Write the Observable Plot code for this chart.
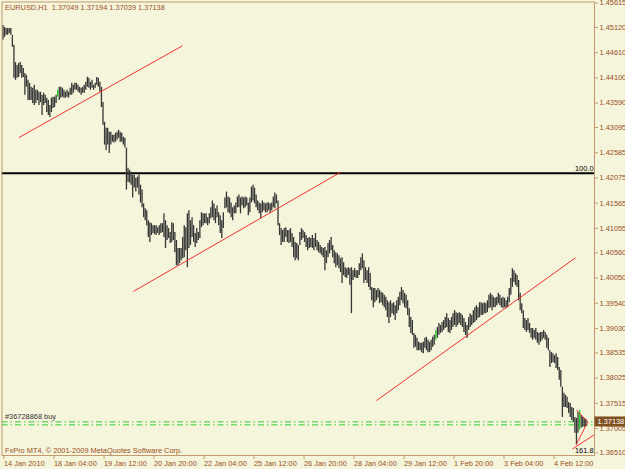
<!DOCTYPE html>
<html><head><meta charset="utf-8">
<script src="https://cdn.jsdelivr.net/npm/d3@7"></script>
<script src="https://cdn.jsdelivr.net/npm/@observablehq/plot@0.6"></script>
<style>
html,body{margin:0;padding:0;background:#f5f5dc;}
#chart svg{display:block;}
</style></head><body><div id="chart"></div>
<script>
const symbol = "EURUSD,H1";
const lastOHLC = [1.37049, 1.37194, 1.37039, 1.37138];

const highs = [
1.4516,1.4512,1.4510,1.4510,1.4510,1.4510,1.4496,1.4476,1.4441,1.4435,
1.4439,1.4441,1.4435,1.4429,1.4419,1.4415,1.4405,1.4399,1.4391,1.4389,
1.4395,1.4385,1.4385,1.4381,1.4381,1.4375,1.4379,1.4375,1.4369,1.4364,
1.4354,1.4369,1.4371,1.4371,1.4375,1.4385,1.4391,1.4391,1.4389,1.4385,
1.4381,1.4385,1.4381,1.4389,1.4399,1.4395,1.4399,1.4399,1.4395,1.4391,
1.4389,1.4391,1.4395,1.4401,1.4411,1.4409,1.4401,1.4405,1.4395,1.4399,
1.4411,1.4409,1.4401,1.4391,1.4360,1.4320,1.4308,1.4308,1.4300,1.4300,
1.4294,1.4294,1.4298,1.4300,1.4304,1.4300,1.4298,1.4290,1.4288,1.4268,
1.4227,1.4223,1.4219,1.4213,1.4213,1.4207,1.4209,1.4213,1.4193,1.4183,
1.4155,1.4145,1.4141,1.4121,1.4117,1.4115,1.4111,1.4111,1.4111,1.4107,
1.4111,1.4115,1.4115,1.4135,1.4121,1.4111,1.4105,1.4097,1.4117,1.4115,
1.4097,1.4081,1.4065,1.4065,1.4065,1.4087,1.4111,1.4107,1.4135,1.4141,
1.4121,1.4127,1.4111,1.4095,1.4105,1.4097,1.4121,1.4137,1.4135,1.4135,
1.4135,1.4127,1.4135,1.4147,1.4161,1.4155,1.4145,1.4151,1.4137,1.4131,
1.4121,1.4137,1.4167,1.4179,1.4169,1.4167,1.4157,1.4147,1.4151,1.4157,
1.4169,1.4173,1.4167,1.4169,1.4167,1.4169,1.4167,1.4157,1.4167,1.4189,
1.4193,1.4187,1.4173,1.4161,1.4157,1.4155,1.4161,1.4157,1.4155,1.4157,
1.4157,1.4155,1.4157,1.4169,1.4177,1.4173,1.4161,1.4115,1.4105,1.4101,
1.4105,1.4107,1.4101,1.4101,1.4105,1.4095,1.4087,1.4077,1.4075,1.4071,
1.4097,1.4105,1.4101,1.4097,1.4091,1.4085,1.4087,1.4085,1.4091,1.4085,
1.4095,1.4081,1.4077,1.4071,1.4067,1.4065,1.4067,1.4060,1.4075,1.4081,
1.4087,1.4071,1.4060,1.4056,1.4054,1.4050,1.4044,1.4046,1.4036,1.4026,
1.4024,1.4026,1.4024,1.4026,1.4020,1.4024,1.4020,1.4020,1.4034,1.4046,
1.4054,1.4040,1.4026,1.4020,1.4026,1.4014,1.3986,1.3984,1.3984,1.3980,
1.3984,1.3980,1.3976,1.3974,1.3970,1.3966,1.3959,1.3955,1.3959,1.3953,
1.3955,1.3949,1.3959,1.3966,1.3976,1.3986,1.3980,1.3974,1.3970,1.3959,
1.3943,1.3925,1.3919,1.3893,1.3889,1.3883,1.3875,1.3873,1.3873,1.3875,
1.3883,1.3885,1.3879,1.3875,1.3879,1.3885,1.3889,1.3899,1.3905,1.3913,
1.3909,1.3915,1.3919,1.3925,1.3933,1.3923,1.3919,1.3925,1.3933,1.3939,
1.3935,1.3933,1.3935,1.3933,1.3929,1.3923,1.3915,1.3909,1.3925,1.3933,
1.3929,1.3939,1.3945,1.3949,1.3945,1.3955,1.3955,1.3953,1.3955,1.3953,
1.3959,1.3970,1.3974,1.3970,1.3966,1.3964,1.3966,1.3974,1.3970,1.3964,
1.3966,1.3964,1.3959,1.3966,1.3984,1.4004,1.4024,1.4020,1.4014,1.4010,
1.4000,1.3974,1.3953,1.3939,1.3923,1.3919,1.3923,1.3913,1.3903,1.3903,
1.3899,1.3903,1.3895,1.3893,1.3895,1.3895,1.3899,1.3895,1.3889,1.3883,
1.3858,1.3854,1.3852,1.3848,1.3852,1.3844,1.3824,1.3818,1.3784,1.3772,
1.3768,1.3764,1.3753,1.3751,1.3743,1.3741,1.3723,1.3721,1.3733,1.3737,
1.3727,1.3723,1.3721,1.37194
];

const lows = [
1.4486,1.4492,1.4496,1.4496,1.4500,1.4496,1.4472,1.4409,1.4405,1.4409,
1.4411,1.4419,1.4409,1.4411,1.4375,1.4391,1.4364,1.4364,1.4364,1.4358,
1.4354,1.4358,1.4364,1.4354,1.4360,1.4334,1.4354,1.4358,1.4340,1.4334,
1.4330,1.4340,1.4348,1.4350,1.4358,1.4371,1.4364,1.4369,1.4371,1.4369,
1.4369,1.4371,1.4369,1.4375,1.4375,1.4379,1.4385,1.4385,1.4381,1.4379,
1.4375,1.4379,1.4379,1.4385,1.4391,1.4389,1.4385,1.4389,1.4385,1.4389,
1.4395,1.4391,1.4381,1.4350,1.4314,1.4274,1.4263,1.4274,1.4257,1.4274,
1.4280,1.4278,1.4280,1.4284,1.4288,1.4280,1.4280,1.4274,1.4268,1.4183,
1.4199,1.4197,1.4193,1.4167,1.4187,1.4179,1.4187,1.4173,1.4157,1.4147,
1.4127,1.4121,1.4111,1.4087,1.4077,1.4091,1.4095,1.4093,1.4091,1.4095,
1.4091,1.4095,1.4097,1.4087,1.4065,1.4081,1.4085,1.4075,1.4077,1.4081,
1.4056,1.4030,1.4030,1.4034,1.4040,1.4044,1.4046,1.4060,1.4026,1.4065,
1.4071,1.4087,1.4077,1.4067,1.4075,1.4081,1.4085,1.4107,1.4111,1.4115,
1.4115,1.4111,1.4115,1.4125,1.4127,1.4121,1.4115,1.4127,1.4111,1.4095,
1.4085,1.4105,1.4145,1.4147,1.4137,1.4135,1.4127,1.4121,1.4135,1.4135,
1.4147,1.4147,1.4135,1.4151,1.4145,1.4147,1.4151,1.4131,1.4137,1.4157,
1.4161,1.4155,1.4147,1.4141,1.4135,1.4125,1.4137,1.4141,1.4137,1.4137,
1.4141,1.4135,1.4141,1.4147,1.4145,1.4155,1.4111,1.4091,1.4071,1.4077,
1.4077,1.4087,1.4077,1.4075,1.4077,1.4067,1.4046,1.4040,1.4044,1.4040,
1.4071,1.4081,1.4085,1.4077,1.4067,1.4060,1.4065,1.4067,1.4065,1.4060,
1.4067,1.4060,1.4056,1.4054,1.4050,1.4046,1.4020,1.4034,1.4046,1.4054,
1.4060,1.4046,1.4034,1.4026,1.4030,1.4024,1.4016,1.3994,1.4010,1.4006,
1.4004,1.4010,1.3990,1.3933,1.4000,1.4006,1.4004,1.4004,1.4010,1.4020,
1.4024,1.3994,1.4000,1.3994,1.3986,1.3980,1.3959,1.3945,1.3955,1.3959,
1.3964,1.3953,1.3955,1.3949,1.3945,1.3939,1.3925,1.3913,1.3925,1.3933,
1.3929,1.3919,1.3933,1.3939,1.3949,1.3959,1.3953,1.3945,1.3943,1.3929,
1.3905,1.3893,1.3889,1.3863,1.3865,1.3858,1.3858,1.3858,1.3854,1.3852,
1.3863,1.3858,1.3854,1.3854,1.3858,1.3865,1.3869,1.3879,1.3883,1.3889,
1.3893,1.3895,1.3899,1.3903,1.3905,1.3895,1.3893,1.3899,1.3905,1.3909,
1.3905,1.3909,1.3913,1.3909,1.3905,1.3895,1.3889,1.3883,1.3899,1.3905,
1.3909,1.3913,1.3915,1.3919,1.3923,1.3925,1.3929,1.3929,1.3933,1.3933,
1.3935,1.3943,1.3945,1.3939,1.3945,1.3945,1.3949,1.3953,1.3949,1.3945,
1.3943,1.3945,1.3943,1.3945,1.3955,1.3970,1.3986,1.3996,1.3990,1.3986,
1.3959,1.3939,1.3933,1.3903,1.3899,1.3895,1.3899,1.3893,1.3883,1.3879,
1.3883,1.3879,1.3873,1.3869,1.3875,1.3879,1.3883,1.3879,1.3863,1.3858,
1.3824,1.3832,1.3834,1.3832,1.3822,1.3818,1.3798,1.3784,1.3723,1.3743,
1.3743,1.3741,1.3731,1.3723,1.3717,1.3713,1.3691,1.3667,1.3691,1.3697,
1.3701,1.3703,1.3703,1.37039
];

const greenBars = [35, 277, 369];

const xTickIndex = [0, 32, 64, 96, 128, 160, 192, 224, 256, 288, 320, 352];
const xTickLabels = ["14 Jan 2010", "18 Jan 04:00", "19 Jan 12:00", "20 Jan 20:00", "22 Jan 04:00", "25 Jan 12:00",
  "26 Jan 20:00", "28 Jan 04:00", "29 Jan 12:00", "1 Feb 20:00", "3 Feb 04:00", "4 Feb 12:00"];

const yTicks = [1.45615, 1.45120, 1.44610, 1.44100, 1.43590, 1.43095, 1.42585, 1.42075, 1.41565, 1.41055,
  1.40560, 1.40050, 1.39540, 1.39030, 1.38535, 1.38025, 1.37515, 1.37005, 1.36510];

// trend lines drawn on the chart: bar index and price at both ends
const trendLines = [
  {i1: 10.1, p1: 1.4289, i2: 114.9, p2: 1.4475},
  {i1: 83.5, p1: 1.3978, i2: 216.0, p2: 1.4219},
  {i1: 239.0, p1: 1.3757, i2: 366.4, p2: 1.4046}
];
const fibLines = [
  {i1: 367.0, p1: 1.3738, i2: 374.3, p2: 1.3714},
  {i1: 374.3, p1: 1.3714, i2: 367.0, p2: 1.3669},
  {i1: 364.4, p1: 1.3659, i2: 380.4, p2: 1.3692}
];
const fibLevel100 = 1.4217;
const fibLevel1618 = 1.3646;
const orderLines = [1.3714, 1.3708];
const orderLabel = "#36728868 buy";
const copyright = "FxPro MT4, \u00a9 2001-2009 MetaQuotes Software Corp.";

const bars = highs.map((h, i) => ({i, high: h, low: lows[i]}));
const title = symbol + "  " + lastOHLC.map(d => d.toFixed(5)).join(" ");

const font = "'Liberation Sans', Arial, sans-serif";
const fs = 7.4;
const brown = "#9a4e1c";
const tan = "#c49a6c";
const bg = "#f5f5dc";

const chart = Plot.plot({
  width: 625, height: 469,
  marginLeft: 1.5, marginTop: 1.5, marginRight: 31, marginBottom: 14,
  style: {background: bg, fontFamily: font, fontSize: fs + "px", color: brown},
  x: {domain: [0, 373], range: [2.5, 2.5 + 1.5625 * 373], axis: null},
  y: {domain: [1.36510, 1.45615], range: [452.5, 2.5], axis: null},
  marks: [
    Plot.ruleY([fibLevel100], {stroke: "#000", strokeWidth: 2}),
    Plot.ruleY(orderLines, {stroke: "#33cc33", strokeWidth: 1, strokeDasharray: "6,3,1.5,3"}),
    Plot.ruleX(bars.filter(d => !greenBars.includes(d.i)), {x: "i", y1: "low", y2: "high", stroke: "#353535", strokeWidth: 1.3}),
    Plot.ruleX(bars.filter(d => greenBars.includes(d.i)), {x: "i", y1: "low", y2: "high", stroke: "#22cc22", strokeWidth: 1.3}),
    Plot.link(trendLines, {x1: "i1", y1: "p1", x2: "i2", y2: "p2", stroke: "#f03030", strokeWidth: 1, clip: true}),
    Plot.link(fibLines, {x1: "i1", y1: "p1", x2: "i2", y2: "p2", stroke: "#f03030", strokeWidth: 1, clip: true}),
    Plot.text([fibLevel100], {y: d => d, frameAnchor: "right", text: () => "100.0", textAnchor: "end", dx: -1, dy: -5, fill: "#000", fontSize: fs}),
    Plot.text([fibLevel1618], {y: d => d, frameAnchor: "right", text: () => "161.8", textAnchor: "end", dx: -1, dy: -5, fill: "#000", fontSize: fs}),
    Plot.text([orderLines[0]], {y: d => d, frameAnchor: "left", text: () => orderLabel, textAnchor: "start", dx: 3, dy: -5, fill: "#333", fontSize: fs}),
    Plot.text([title], {frameAnchor: "top-left", textAnchor: "start", lineAnchor: "top", dx: 3, dy: 3, fill: brown, fontSize: fs}),
    Plot.text([copyright], {frameAnchor: "bottom-left", textAnchor: "start", lineAnchor: "bottom", dx: 3, dy: -3, fill: brown, fontSize: fs}),
    Plot.frame({stroke: tan, strokeWidth: 1}),
    Plot.axisY({anchor: "right", ticks: yTicks, tickSize: 3, tickPadding: 2, tickFormat: d => d.toFixed(5), stroke: tan, fill: brown, fontSize: fs}),
    Plot.axisX({anchor: "bottom", ticks: xTickIndex, tickSize: 4, tickPadding: 1,
      tickFormat: d => xTickLabels[xTickIndex.indexOf(d)], textAnchor: "start", dx: 1, stroke: tan, fill: brown, fontSize: fs})
  ]
});

document.getElementById("chart").appendChild(chart);

// current price marker on the price scale
const svg = d3.select(chart);
const yPos = chart.scale("y").apply(lastOHLC[3]);
const g = svg.append("g");
g.append("rect").attr("x", 594.5).attr("y", yPos - 5).attr("width", 31).attr("height", 10).attr("fill", "#80501f");
g.append("text").attr("x", 597.5).attr("y", yPos).attr("dy", "0.35em").attr("text-anchor", "start").attr("fill", "#fff")
  .attr("font-family", font).attr("font-size", fs).text(lastOHLC[3].toFixed(5));
</script></body></html>
